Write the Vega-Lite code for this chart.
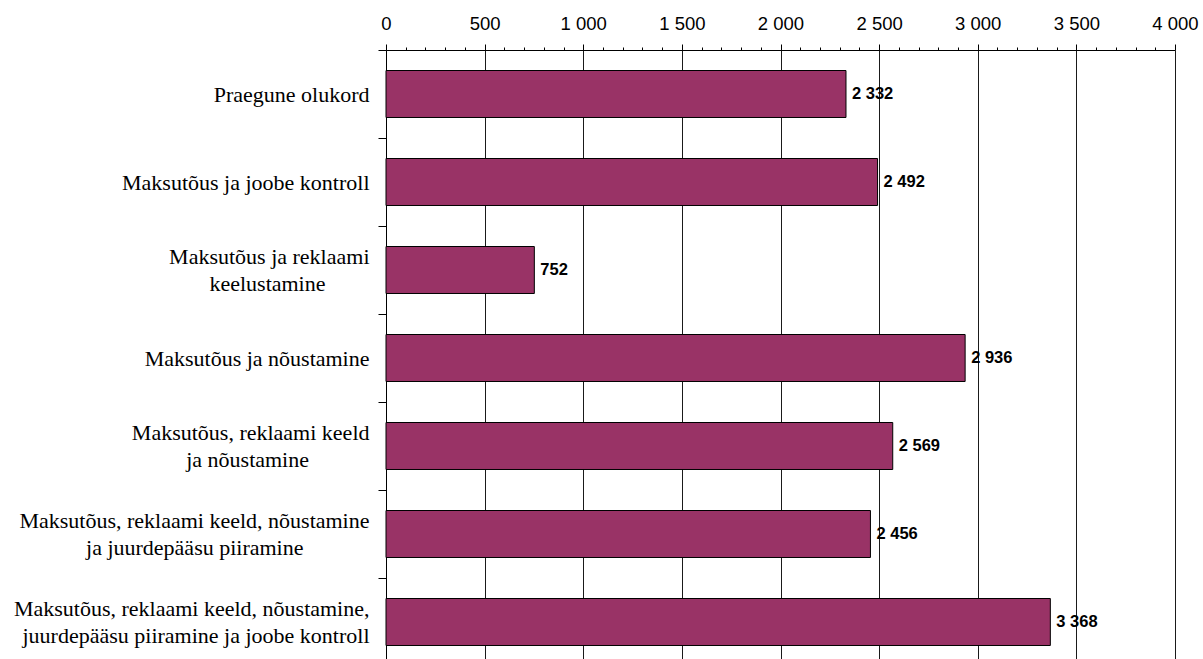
{
  "$schema": "https://vega.github.io/schema/vega-lite/v6.json",
  "width": 789,
  "height": 616,
  "autosize": "none",
  "padding": {"left": 386, "top": 50, "right": 28, "bottom": -7},
  "background": "white",
  "config": {
    "locale": {"number": {"decimal": ",", "thousands": " ", "grouping": [3], "currency": ["", " €"]}},
    "view": {"stroke": null}
  },
  "data": {
    "values": [
      {"scenario": "Praegune olukord", "value": 2332},
      {"scenario": "Maksutõus ja joobe kontroll", "value": 2492},
      {"scenario": "Maksutõus ja reklaami\nkeelustamine", "value": 752},
      {"scenario": "Maksutõus ja nõustamine", "value": 2936},
      {"scenario": "Maksutõus, reklaami keeld\nja nõustamine", "value": 2569},
      {"scenario": "Maksutõus, reklaami keeld, nõustamine\nja juurdepääsu piiramine", "value": 2456},
      {"scenario": "Maksutõus, reklaami keeld, nõustamine,\njuurdepääsu piiramine ja joobe kontroll", "value": 3368}
    ]
  },
  "encoding": {
    "y": {
      "field": "scenario",
      "type": "nominal",
      "sort": null,
      "scale": {"paddingInner": 0, "paddingOuter": 0},
      "axis": {
        "title": null,
        "orient": "left",
        "domain": true,
        "domainColor": "#000",
        "ticks": true,
        "tickBand": "extent",
        "tickSize": 8,
        "tickColor": "#000",
        "labelFont": "Liberation Serif",
        "labelFontSize": 22,
        "labelColor": "#000",
        "labelLineHeight": 26.7,
        "labelPadding": 9,
        "labelLimit": 0,
        "labelOffset": {"condition": {"test": "length(datum.label) > 30", "value": -13.4}, "value": 0},
        "grid": false,
        "labelExpr": "length(split(datum.label, '\\n')) < 2 ? datum.label : [split(datum.label, '\\n')[0], pad(split(datum.label, '\\n')[1], length(split(datum.label, '\\n')[1]) + max(0, round(0.92 * (length(split(datum.label, '\\n')[0]) - length(split(datum.label, '\\n')[1])))), '\u00a0') + '\u200b']"
      }
    },
    "x": {
      "field": "value",
      "type": "quantitative",
      "scale": {"domain": [0, 4000], "nice": false},
      "axis": {
        "orient": "top",
        "title": null,
        "tickCount": 40,
        "format": ",d",
        "labelExpr": "datum.value % 500 === 0 ? datum.label : ''",
        "labelFont": "Liberation Sans",
        "labelFontSize": 18.5,
        "labelColor": "#000",
        "labelPadding": 11,
        "labelOverlap": false,
        "labelFlush": false,
        "tickSize": {"condition": {"test": "datum.value % 500 === 0", "value": 6}, "value": 3},
        "tickColor": "#000",
        "domainColor": "#000",
        "grid": true,
        "gridColor": "#1a1a1a",
        "gridOpacity": {"condition": {"test": "datum.value % 500 === 0", "value": 1}, "value": 0}
      }
    }
  },
  "layer": [
    {"mark": {"type": "bar", "color": "#993366", "stroke": "#000", "strokeWidth": 1, "height": {"band": 0.534}}},
    {
      "mark": {"type": "text", "align": "left", "baseline": "middle", "dx": 6, "font": "Liberation Sans", "fontSize": 16.5, "fontWeight": "bold", "color": "#000"},
      "encoding": {"text": {"field": "value", "type": "quantitative", "format": ",d"}}
    }
  ]
}
